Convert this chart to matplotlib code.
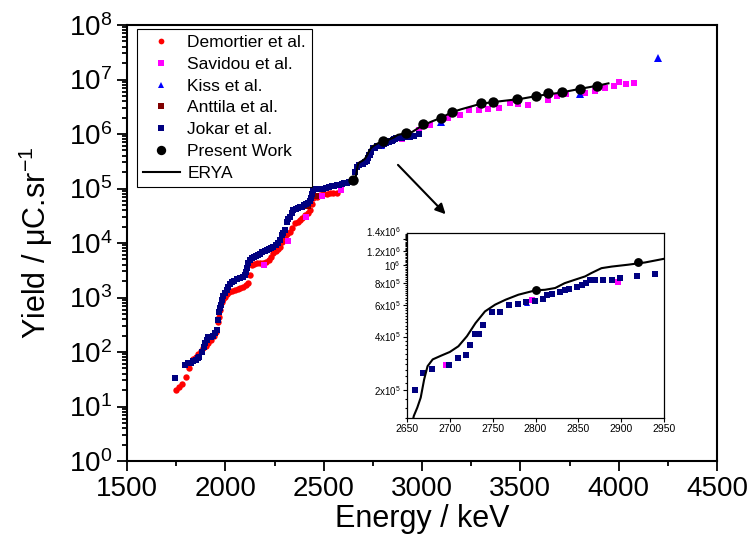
import matplotlib
matplotlib.use("Agg")
import matplotlib.pyplot as plt
from matplotlib.ticker import FixedLocator, FixedFormatter, LogLocator, MultipleLocator, NullFormatter

plt.rcParams["font.family"] = ["Liberation Sans", "DejaVu Sans"]
plt.rcParams["mathtext.fontset"] = "custom"
plt.rcParams["mathtext.rm"] = "Liberation Sans"
plt.rcParams["mathtext.it"] = "Liberation Sans:italic"
plt.rcParams["mathtext.default"] = "regular"

# ---- data (energy in keV, yield in counts/uC.sr) ----
demortier_e = [1748, 1765, 1780, 1798, 1815, 1834, 1850, 1862, 1875, 1888, 1900, 1912, 1925,
               1940, 1950, 1961, 1968, 1975, 1981, 1990, 1998, 2010, 2020, 2035, 2049, 2063,
               2077, 2091, 2104, 2117, 2125, 2134, 2145, 2160, 2176, 2193, 2208, 2220, 2232,
               2244, 2256, 2267, 2278, 2290, 2303, 2316, 2329, 2341, 2354, 2367, 2380, 2392,
               2405, 2418, 2431, 2440, 2448, 2465, 2481, 2498, 2515, 2532, 2549, 2566]
demortier_y = [20, 23, 25.5, 35, 50, 73, 82, 92, 106, 117, 129, 145, 165,
               200, 230, 360, 445, 600, 835, 950, 1030, 1150, 1250, 1330, 1380, 1450,
               1520, 1585, 1700, 1820, 2600, 4000, 4150, 4260, 4260, 4260, 4500, 4800, 5500,
               6460, 7200, 7800, 8550, 10500, 13000, 14500, 16200, 19000, 23000, 24500, 26400, 29000,
               32500, 36000, 39800, 52000, 66000, 71000, 76000, 78500, 80000, 81500, 83000, 84000]

savidou_e = [2198, 2318, 2410, 2490, 2590, 2696, 2796, 2896, 2986, 3041, 3134, 3194, 3239,
             3290, 3337, 3392, 3445, 3486, 3538, 3639, 3685, 3731, 3829, 3880, 3931, 3978,
             4003, 4037, 4078]
savidou_y = [3900, 11000, 30300, 72800, 93000, 2.78e5, 6.42e5, 8.04e5, 1.18e6, 1.46e6, 1.94e6,
             2.23e6, 2.73e6, 2.7e6, 2.93e6, 3.0e6, 3.65e6, 3.55e6, 3.4e6, 4.15e6, 5.0e6, 5.35e6,
             5.73e6, 6.15e6, 6.9e6, 7.7e6, 9.1e6, 8.1e6, 8.7e6]

kiss_e = [2790, 3097, 3804, 4202]
kiss_y = [6.2e5, 1.63e6, 5.4e6, 2.45e7]

anttila_e = [2420, 2460]
anttila_y = [47000, 72000]

jokar_e = [1746, 1797, 1812, 1824, 1837, 1851, 1860, 1868, 1880, 1890, 1897, 1905, 1913, 1925,
           1939, 1948, 1956, 1962, 1968, 1973, 1978, 1984, 1990, 1998, 2006, 2015, 2024, 2032,
           2045, 2060, 2075, 2088, 2100, 2106, 2112, 2117, 2125, 2134, 2145, 2155, 2165, 2176,
           2188, 2200, 2210, 2222, 2233, 2244, 2256, 2267, 2278, 2287, 2295, 2303, 2312, 2320,
           2329, 2338, 2346, 2357, 2368, 2378, 2388, 2400, 2411, 2422, 2428, 2434, 2441, 2448,
           2460, 2472, 2485, 2498, 2512, 2525, 2540, 2553, 2566, 2580, 2593, 2605, 2618, 2630,
           2643, 2659, 2669, 2679, 2699, 2709, 2719, 2724, 2729, 2734, 2739, 2749, 2759, 2769,
           2779, 2789, 2799, 2809, 2814, 2819, 2829, 2834, 2839, 2849, 2854, 2859, 2864, 2869,
           2879, 2889, 2899, 2919, 2939, 2960, 2985]
jokar_y = [34, 58, 62, 64, 67, 71, 76, 81, 100, 125, 144, 165, 186, 190,
           196, 220, 253, 380, 535, 630, 730, 900, 1060, 1200, 1380, 1550, 1750, 1950,
           2050, 2150, 2240, 2400, 2580, 2950, 3450, 4370, 4900, 5250, 5600, 5850, 6100, 6300,
           6700, 7100, 7400, 7800, 8200, 8550, 9200, 10200, 11350, 14100, 15500, 17300, 24600, 27500,
           30300, 35000, 40300, 42000, 43500, 45000, 46500, 49000, 51000, 53300, 59000, 66000, 80000, 93900,
           96000, 97500, 99000, 100000, 103000, 106000, 109000, 112000, 115000, 118000, 121000, 124000, 127000, 130000,
           133000, 2.0e5, 2.51e5, 2.65e5, 2.78e5, 3.03e5, 3.16e5, 3.58e5, 4.11e5, 4.14e5, 4.67e5, 5.47e5, 5.47e5, 6.01e5,
           6.06e5, 6.27e5, 6.30e5, 6.52e5, 6.86e5, 6.95e5, 7.10e5, 7.26e5, 7.38e5, 7.57e5, 7.80e5, 7.96e5, 8.24e5, 8.32e5,
           8.32e5, 8.32e5, 8.53e5, 8.68e5, 8.96e5, 9.3e5, 1.0e6]

present_e = [2650, 2800, 2920, 3007, 3097, 3151, 3300, 3360, 3481, 3578, 3642, 3713, 3803, 3888]
present_y = [1.42e5, 7.3e5, 1.05e6, 1.5e6, 2.0e6, 2.57e6, 3.66e6, 3.9e6, 4.4e6, 5.0e6, 5.7e6,
             5.8e6, 6.7e6, 7.7e6]

erya_e = [2655, 2658, 2662, 2666, 2670, 2674, 2680, 2690, 2700, 2710, 2720, 2730, 2741, 2753,
          2765, 2780, 2800, 2811, 2823, 2834, 2846, 2858, 2865, 2877, 2889, 2908, 2928, 2950,
          3000, 3050, 3100, 3150, 3200, 3250, 3300, 3400, 3500, 3600, 3700, 3800, 3900, 3948]
erya_y = [1.25e5, 1.44e5, 1.6e5, 1.82e5, 2.3e5, 2.73e5, 2.98e5, 3.13e5, 3.28e5, 3.53e5, 4.02e5,
          4.76e5, 5.53e5, 6.04e5, 6.43e5, 6.86e5, 7.26e5, 7.31e5, 7.48e5, 7.96e5, 8.32e5, 8.69e5,
          9.06e5, 9.66e5, 9.86e5, 1.01e6, 1.04e6, 1.09e6, 1.42e6, 1.7e6, 2.0e6, 2.5e6, 2.85e6,
          3.2e6, 3.6e6, 4.0e6, 4.4e6, 5.1e6, 5.7e6, 6.7e6, 7.8e6, 8.5e6]

inset_yticks = [2e5, 4e5, 6e5, 8e5, 1e6, 1.2e6, 1.4e6]
inset_ylabels = ["2x10$^5$", "4x10$^5$", "6x10$^5$", "8x10$^5$", "10$^6$", "1.2x10$^6$", "1.4x10$^6$"]

RED, MAGENTA, BLUE, MAROON, NAVY = "#ff0000", "#ff00ff", "#0000ff", "#800000", "#000080"


def draw_series(ax, small=False):
    k = 0.85 if small else 1.0
    # the first Present Work point sits just off the inset's lower-left corner
    pw = slice(1, None) if small else slice(None)
    ax.plot(demortier_e, demortier_y, "o", color=RED, ms=4.6 * k, mew=0, label="Demortier et al.")
    ax.plot(savidou_e, savidou_y, "s", color=MAGENTA, ms=4.4 * k, mew=0, label="Savidou et al.")
    ax.plot(kiss_e, kiss_y, "^", color=BLUE, ms=5.2 * k, mew=0, label="Kiss et al.")
    ax.plot(anttila_e, anttila_y, "s", color=MAROON, ms=4.4 * k, mew=0, label="Anttila et al.")
    ax.plot(jokar_e, jokar_y, "s", color=NAVY, ms=4.4 * k, mew=0, label="Jokar et al.")
    ax.plot(present_e[pw], present_y[pw], "o", color="black", ms=7.5 * k, mew=0, label="Present Work")
    ax.plot(erya_e, erya_y, "-", color="black", lw=1.5, label="ERYA")


fig = plt.figure(figsize=(7.53, 5.56), dpi=100)
ax = fig.add_axes([127 / 753, 1 - 461 / 556, 590 / 753, 436 / 556])
draw_series(ax)
ax.set_yscale("log")
ax.set_xlim(1500, 4500)
ax.set_ylim(1, 1e8)
ax.xaxis.set_major_locator(MultipleLocator(500))
ax.xaxis.set_minor_locator(MultipleLocator(250))
ax.yaxis.set_major_locator(LogLocator(base=10, numticks=20))
ax.yaxis.set_minor_locator(LogLocator(base=10, subs=range(2, 10), numticks=20))
ax.yaxis.set_minor_formatter(NullFormatter())
ax.tick_params(which="both", direction="out", top=False, right=False, labelsize=20, width=1.3)
ax.tick_params(which="major", length=7)
ax.tick_params(which="minor", length=3.5)
for s in ax.spines.values():
    s.set_linewidth(1.5)
ax.set_xlabel("Energy / keV", fontsize=22, labelpad=2)
ax.set_ylabel("Yield / μC.sr$^{-1}$", fontsize=22, labelpad=10)

leg = ax.legend(loc="upper left", bbox_to_anchor=(0.017, 0.991), borderaxespad=0,
                fontsize=12.5, frameon=True, fancybox=False, edgecolor="black", framealpha=1,
                labelspacing=0.38, handlelength=2.1, handletextpad=0.45, borderpad=0.35,
                markerscale=0.9)
leg.get_frame().set_linewidth(0.8)

# zoom arrow
ax.annotate("", xy=(3130, 3.1e4), xytext=(2868, 2.95e5),
            arrowprops=dict(arrowstyle="-|>", color="black", lw=1.5, mutation_scale=15))

# inset
axi = fig.add_axes([407 / 753, 1 - 418 / 556, 257 / 753, 185 / 556])
draw_series(axi, small=True)
axi.set_yscale("log")
axi.set_xlim(2650, 2950)
axi.set_ylim(1.4e5, 1.52e6)
axi.xaxis.set_major_locator(MultipleLocator(50))
axi.yaxis.set_major_locator(FixedLocator(inset_yticks))
axi.yaxis.set_major_formatter(FixedFormatter(inset_ylabels))
axi.yaxis.set_minor_locator(FixedLocator([v * 1e4 for v in range(14, 152, 2)]))
axi.yaxis.set_minor_formatter(NullFormatter())
axi.tick_params(which="both", direction="out", top=False, right=False, labelsize=7.5, width=0.8, pad=1.5)
axi.tick_params(axis="y", labelsize=7)
axi.tick_params(which="major", length=3)
axi.tick_params(which="minor", length=1.5)
for s in axi.spines.values():
    s.set_linewidth(0.9)
# the two top labels sit only ~12 px apart; lift the top one slightly
axi.get_yticklabels()[-1].set_verticalalignment("bottom")

fig.savefig("out.png", dpi=100)
